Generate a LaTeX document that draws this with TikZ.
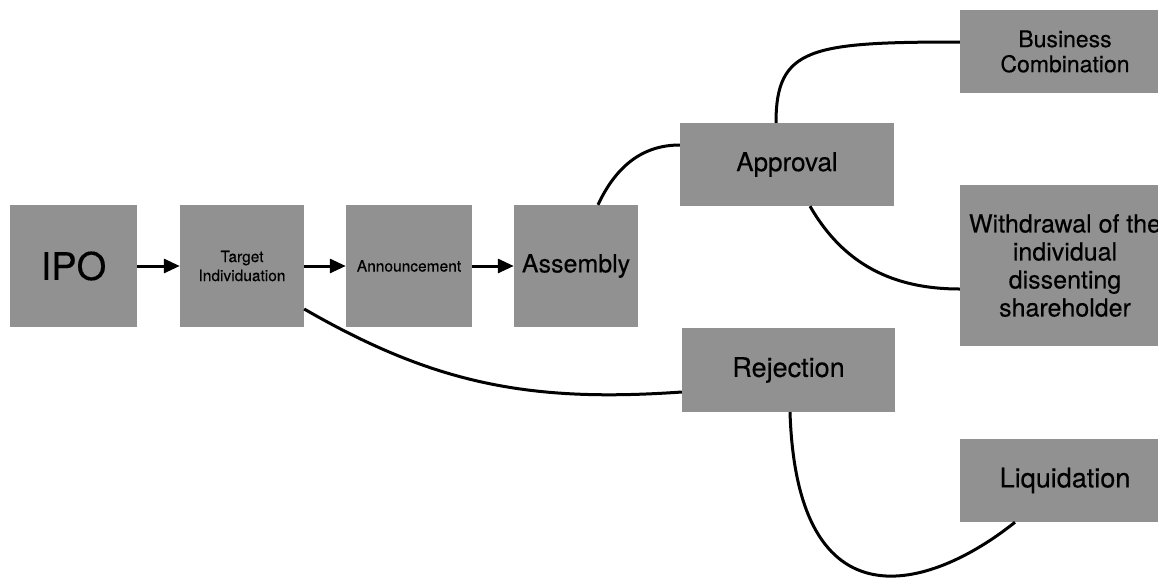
\documentclass[tikz,border=0pt]{standalone}
\usepackage{fontspec}
\setmainfont{TeX Gyre Heros}[FakeBold=0.3]
\usetikzlibrary{arrows.meta}
\definecolor{boxgray}{RGB}{145,145,145}
\begin{document}
\begin{tikzpicture}[x=1pt,y=-1pt,
  stage/.style={fill=boxgray,draw=none,inner sep=0pt,align=center},
  link/.style={line width=3pt},
  flow/.style={line width=3pt,-{Triangle[length=16pt,width=14pt]}}]
\useasboundingbox (0,0) rectangle (1158,584);
%%%%%%%%%%%%%%%%
\node[stage,minimum width=127pt,minimum height=122pt,font=\fontsize{38}{40}\selectfont] (ipo) at (73.5,266) {IPO};
\node[stage,minimum width=124pt,minimum height=122pt,font=\fontsize{15.5}{19}\selectfont] (tgt) at (242,266) {Target\\Individuation};
\node[stage,minimum width=126pt,minimum height=122pt,font=\fontsize{15.5}{19}\selectfont] (ann) at (409,266) {Announcement};
\node[stage,minimum width=124pt,minimum height=122pt,font=\fontsize{25}{28}\selectfont] (asm) at (576,266) {Assembly};
%%%%%%%%%%%%%%%%
\node[stage,minimum width=214pt,minimum height=83pt,font=\fontsize{26}{28}\selectfont] (appr) at (787,164.5) {\raisebox{-3pt}{Approval}};
\node[stage,minimum width=213pt,minimum height=84pt,font=\fontsize{27}{28}\selectfont] (rej) at (788.5,370) {\raisebox{-3pt}{Rejection}};
%%%%%%%%%%%%%%%%
\node[stage,minimum width=210pt,minimum height=83pt,font=\fontsize{23}{25}\selectfont] (biz) at (1065,51.5) {Business\\Combination};
\node[stage,minimum width=210pt,minimum height=161pt,font=\fontsize{25}{28}\selectfont] (wdr) at (1065,265.5) {Withdrawal of the\\individual\\dissenting\\shareholder};
\node[stage,minimum width=210pt,minimum height=83pt,font=\fontsize{27}{28}\selectfont] (liq) at (1065,480.5) {\raisebox{-3pt}{Liquidation}};
%%%%%%%%%%%%%%%%
\draw[flow] (ipo) -- (tgt);
\draw[flow] (tgt) -- (ann);
\draw[flow] (ann) -- (asm);
%%%%%%%%%%%%%%%%
\draw[link] ([xshift=22pt]asm.north) to[out=65,in=180] ([yshift=19.5pt]appr.west);
\draw[link] ([yshift=-43pt]tgt.east) to[out=-30,in=184] ([yshift=-22pt]rej.west);
\draw[link] ([xshift=-11pt]appr.north) .. controls +(0,-75) and +(-150,0) .. ([yshift=9.5pt]biz.west);
\draw[link] ([xshift=23pt]appr.south) to[out=-60,in=180] ([yshift=-23.5pt]wdr.west);
\draw[link] ([xshift=1.5pt]rej.south) .. controls +(7,218) and +(-85,68) .. ([xshift=-50pt]liq.south);
\end{tikzpicture}
\end{document}
